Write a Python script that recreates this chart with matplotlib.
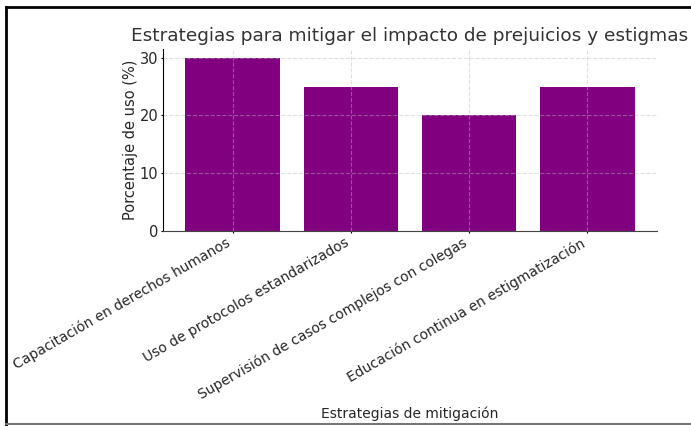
import matplotlib
matplotlib.use("Agg")
import matplotlib.pyplot as plt
from matplotlib.lines import Line2D

strategies = [
    "Capacitación en derechos humanos",
    "Uso de protocolos estandarizados",
    "Supervisión de casos complejos con colegas",
    "Educación continua en estigmatización",
]
usage_pct = [30, 25, 20, 25]

text_color = "#262626"

fig = plt.figure(figsize=(6.91, 4.26), dpi=100)
ax = fig.add_axes([0.2359, 0.4577, 0.7149, 0.4272])

ax.bar(strategies, usage_pct, color="purple", width=0.8)
ax.set_title("Estrategias para mitigar el impacto de prejuicios y estigmas", fontsize=13.3, color="#333333")
ax.set_xlabel("Estrategias de mitigación", fontsize=10, labelpad=3, color=text_color)
ax.set_ylabel("Porcentaje de uso (%)", fontsize=10.5, labelpad=1, color=text_color)
ax.set_yticks([0, 10, 20, 30])
ax.tick_params(labelsize=10.5, length=1.5, pad=2, labelcolor=text_color)
ax.tick_params(axis="x", labelsize=10)
plt.setp(ax.get_xticklabels(), rotation=30, ha="right")
ax.grid(True, linestyle="--", color="#bbbbbb", alpha=0.45, linewidth=0.8)
ax.spines["top"].set_visible(False)
ax.spines["right"].set_visible(False)
ax.spines["bottom"].set_color("#444444")

# frame around the figure
fig.add_artist(Line2D([6 / 691, 1], [1 - 7 / 426] * 2, color="black", lw=2))
fig.add_artist(Line2D([6 / 691] * 2, [0, 1 - 7 / 426], color="black", lw=2))
fig.add_artist(Line2D([6 / 691, 1], [2 / 426] * 2, color="#777777", lw=1.5))

fig.savefig("out.png", dpi=100)
